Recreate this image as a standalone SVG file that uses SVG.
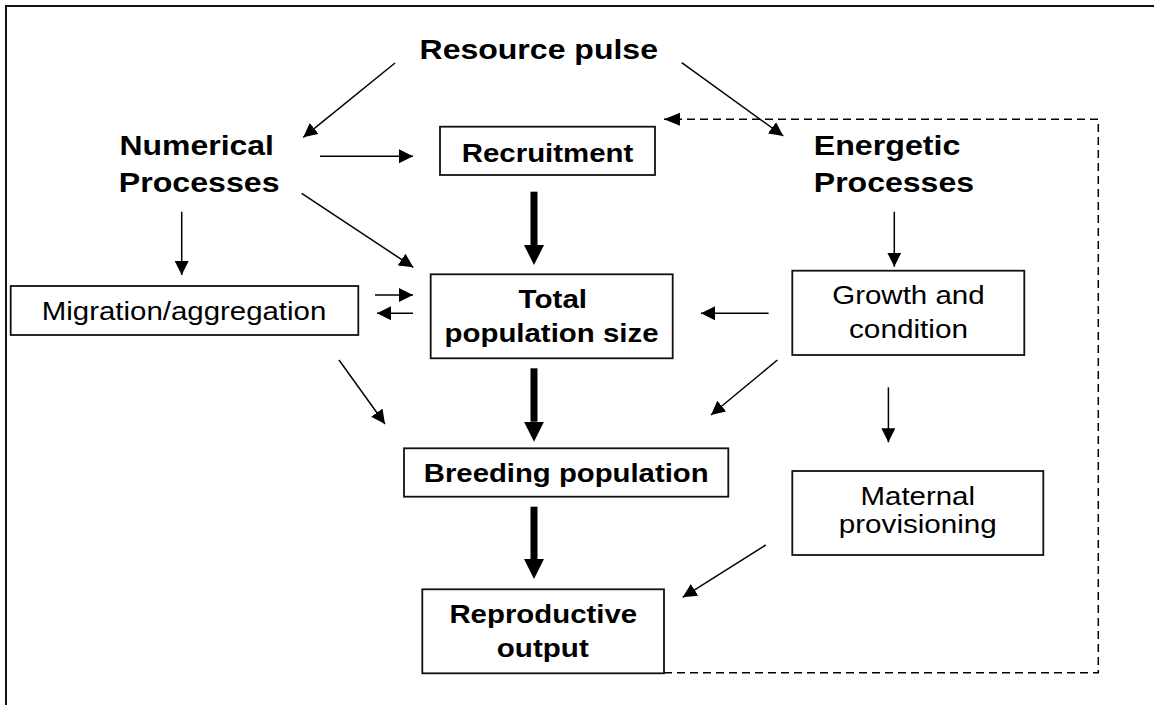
<svg xmlns="http://www.w3.org/2000/svg" width="1154" height="705" viewBox="0 0 1154 705">
<style>
.frame{fill:none;stroke:#111;stroke-width:2}
.box{fill:#fff;stroke:#111;stroke-width:1.8}
.hdr{font-family:"Liberation Sans",Arial,sans-serif;font-weight:bold;font-size:28px;fill:#000}
.bt{font-family:"Liberation Sans",Arial,sans-serif;font-weight:bold;font-size:26px;fill:#000}
.rt{font-family:"Liberation Sans",Arial,sans-serif;font-size:25.5px;fill:#000}
.thin{fill:none;stroke:#000;stroke-width:1.5}
.thick{fill:none;stroke:#000;stroke-width:7}
.dash{fill:none;stroke:#000;stroke-width:1.5;stroke-dasharray:8 5}
</style>
<defs>
<marker id="ah" markerUnits="userSpaceOnUse" markerWidth="15" markerHeight="15" refX="14" refY="7" orient="auto"><path d="M0,0 L14,7 L0,14 z" fill="#000"/></marker>
<marker id="ahd" markerUnits="userSpaceOnUse" markerWidth="17" markerHeight="14" refX="16" refY="6.5" orient="auto"><path d="M0,0 L16,6.5 L0,13 z" fill="#000"/></marker>
<marker id="ahT" markerUnits="userSpaceOnUse" markerWidth="21" markerHeight="21" refX="0" refY="10" orient="auto"><path d="M0,0 L20,10 L0,20 z" fill="#000"/></marker>
</defs>
<rect width="1154" height="705" fill="#fff"/>
<path class="frame" d="M6,710 V6 H1160"/>

<g id="connectors">
<line class="thin" x1="395" y1="63" x2="303.3" y2="137.3" marker-end="url(#ah)"/>
<line class="thin" x1="681.7" y1="62.7" x2="783.3" y2="136" marker-end="url(#ah)"/>
<line class="thin" x1="320" y1="156.3" x2="413" y2="156.3" marker-end="url(#ah)"/>
<line class="thin" x1="301.7" y1="193.3" x2="413.3" y2="267.3" marker-end="url(#ah)"/>
<line class="thin" x1="181.7" y1="211.7" x2="181.7" y2="275" marker-end="url(#ah)"/>
<line class="thin" x1="375" y1="295" x2="413" y2="295" marker-end="url(#ah)"/>
<line class="thin" x1="413" y1="313.3" x2="377" y2="313.3" marker-end="url(#ah)"/>
<line class="thin" x1="768.6" y1="313.3" x2="701" y2="313.3" marker-end="url(#ah)"/>
<line class="thin" x1="339" y1="360" x2="385" y2="424" marker-end="url(#ah)"/>
<line class="thin" x1="777.4" y1="360" x2="711" y2="415" marker-end="url(#ah)"/>
<line class="thin" x1="894.3" y1="211.7" x2="894.3" y2="266.7" marker-end="url(#ah)"/>
<line class="thin" x1="888.4" y1="387.3" x2="888.4" y2="442.3" marker-end="url(#ah)"/>
<line class="thin" x1="765.7" y1="545" x2="682.7" y2="597.3" marker-end="url(#ah)"/>
<line class="thick" x1="534" y1="191.7" x2="534" y2="245" marker-end="url(#ahT)"/>
<line class="thick" x1="534" y1="368.3" x2="534" y2="421.7" marker-end="url(#ahT)"/>
<line class="thick" x1="534" y1="506.7" x2="534" y2="559" marker-end="url(#ahT)"/>
<path class="dash" d="M664,672.7 H1098.3 V119.3 H664" marker-end="url(#ahd)"/>
</g>

<g id="resource-pulse">
<text class="hdr" x="419.5" y="59.3" textLength="238.5" lengthAdjust="spacingAndGlyphs">Resource pulse</text>
</g>
<g id="numerical-processes">
<text class="hdr" x="119.5" y="155" textLength="154.5" lengthAdjust="spacingAndGlyphs">Numerical</text>
<text class="hdr" x="118.8" y="191.7" textLength="160.8" lengthAdjust="spacingAndGlyphs">Processes</text>
</g>
<g id="energetic-processes">
<text class="hdr" x="813.8" y="155" textLength="146.5" lengthAdjust="spacingAndGlyphs">Energetic</text>
<text class="hdr" x="813.8" y="191.7" textLength="160.2" lengthAdjust="spacingAndGlyphs">Processes</text>
</g>
<g id="recruitment">
<rect class="box" x="440" y="126.7" width="215" height="48.3"/>
<text class="bt" x="461.8" y="161.7" textLength="171.5" lengthAdjust="spacingAndGlyphs">Recruitment</text>
</g>
<g id="total-population">
<rect class="box" x="430.7" y="274.3" width="242" height="84"/>
<text class="bt" x="518.6" y="308.3" textLength="68.5" lengthAdjust="spacingAndGlyphs">Total</text>
<text class="bt" x="444.5" y="342.3" textLength="214" lengthAdjust="spacingAndGlyphs">population size</text>
</g>
<g id="migration">
<rect class="box" x="10.7" y="286" width="347.6" height="49"/>
<text class="rt" x="41.8" y="320" textLength="284.5" lengthAdjust="spacingAndGlyphs">Migration/aggregation</text>
</g>
<g id="growth">
<rect class="box" x="792.3" y="270.7" width="232" height="84.3"/>
<text class="rt" x="832.2" y="304" textLength="152.5" lengthAdjust="spacingAndGlyphs">Growth and</text>
<text class="rt" x="849" y="338.3" textLength="119" lengthAdjust="spacingAndGlyphs">condition</text>
</g>
<g id="breeding">
<rect class="box" x="404" y="448.3" width="324.3" height="48.4"/>
<text class="bt" x="423.8" y="481.7" textLength="284.8" lengthAdjust="spacingAndGlyphs">Breeding population</text>
</g>
<g id="maternal">
<rect class="box" x="792.3" y="471" width="251" height="84"/>
<text class="rt" x="860.5" y="505" textLength="114.5" lengthAdjust="spacingAndGlyphs">Maternal</text>
<text class="rt" x="838.8" y="533.3" textLength="158" lengthAdjust="spacingAndGlyphs">provisioning</text>
</g>
<g id="reproductive">
<rect class="box" x="422.3" y="589.3" width="241.7" height="84"/>
<text class="bt" x="449.4" y="622.7" textLength="187.8" lengthAdjust="spacingAndGlyphs">Reproductive</text>
<text class="bt" x="496.8" y="656.5" textLength="92" lengthAdjust="spacingAndGlyphs">output</text>
</g>
</svg>
